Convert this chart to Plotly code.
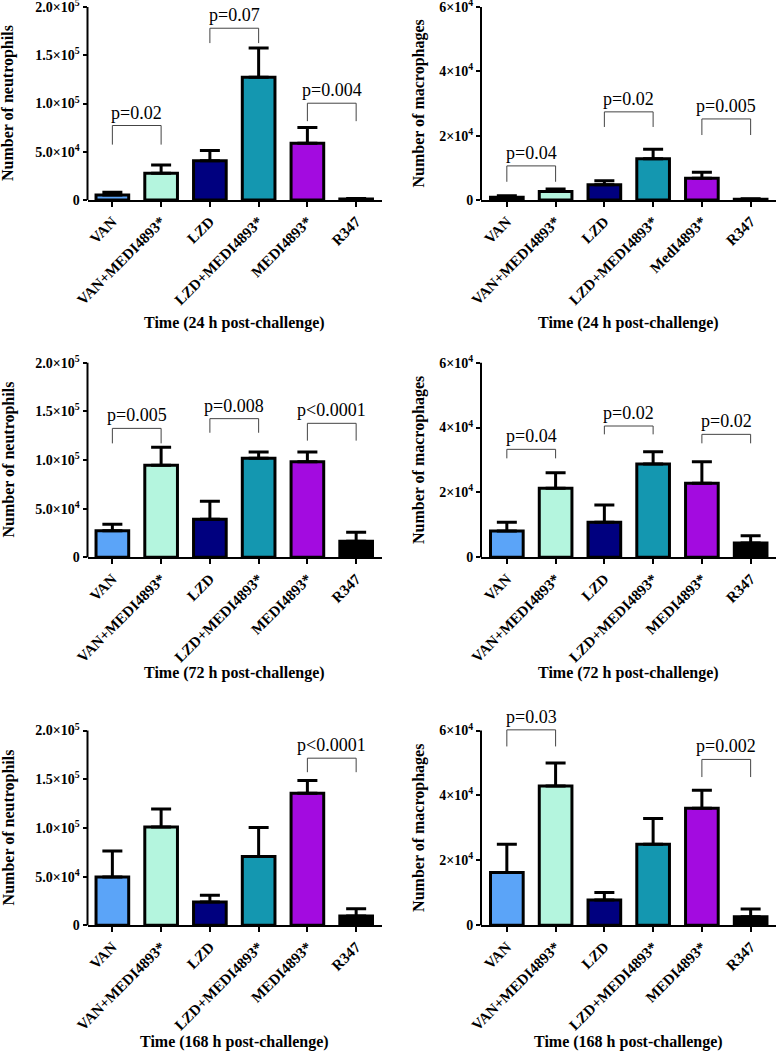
import plotly.graph_objects as go

groups = ["VAN", "VAN+MEDI4893*", "LZD", "LZD+MEDI4893*", "MEDI4893*", "R347"]
groups_mac_24h = ["VAN", "VAN+MEDI4893*", "LZD", "LZD+MEDI4893*", "MedI4893*", "R347"]
colors = ["#5ba4f8", "#b4f5de", "#00007f", "#1497b0", "#a30be0", "#000000"]

# means and upper SEM
neut_24h = [5200, 27700, 40800, 127300, 58800, 1000]
neut_24h_err = [2800, 8600, 10400, 30100, 16300, 500]
mac_24h = [820, 2680, 4730, 12860, 6790, 200]
mac_24h_err = [520, 720, 1240, 2890, 1860, 150]
neut_72h = [27400, 94500, 39000, 101700, 98300, 16400]
neut_72h_err = [6500, 18500, 18500, 6500, 9900, 9300]
mac_72h = [8120, 21270, 10790, 28770, 22810, 4420]
mac_72h_err = [2670, 4830, 5340, 3800, 6680, 2260]
neut_168h = [49660, 101030, 23970, 70550, 135620, 9590]
neut_168h_err = [26710, 18490, 6850, 29790, 13010, 7530]
mac_168h = [16280, 42900, 7780, 24980, 36040, 2660]
mac_168h_err = [8700, 7070, 2360, 7890, 5530, 2360]

neut_ticks = [0, 50000, 100000, 150000, 200000]
neut_ticktext = ["0", "5.0×10<sup>4</sup>", "1.0×10<sup>5</sup>", "1.5×10<sup>5</sup>", "2.0×10<sup>5</sup>"]
mac_ticks = [0, 20000, 40000, 60000]
mac_ticktext = ["0", "2×10<sup>4</sup>", "4×10<sup>4</sup>", "6×10<sup>4</sup>"]

# significance brackets: (left bar, right bar, label, bracket height, leg end)
br_neut_24h = [(0, 1, "p=0.02", 77200, 57400), (2, 3, "p=0.07", 178000, 162600), (4, 5, "p=0.004", 100300, 81700)]
br_mac_24h = [(0, 1, "p=0.04", 10600, 5660), (2, 3, "p=0.02", 27400, 22700), (4, 5, "p=0.005", 25200, 20200)]
br_neut_72h = [(0, 1, "p=0.005", 132500, 117100), (2, 3, "p=0.008", 142500, 128000), (4, 5, "p<0.0001", 137700, 119900)]
br_mac_72h = [(0, 1, "p=0.04", 33290, 30510), (2, 3, "p=0.02", 40480, 37910), (4, 5, "p=0.02", 37910, 35140)]
br_neut_168h = [(4, 5, "p<0.0001", 171580, 157190)]
br_mac_168h = [(0, 1, "p=0.03", 60200, 55090), (4, 5, "p=0.002", 51090, 45660)]

panels = [
    dict(row=0, col=0, labels=groups, y=neut_24h, e=neut_24h_err, ticks=neut_ticks, tt=neut_ticktext,
         ytop=200000, rtop=200000, br=br_neut_24h, ytitle="Number of neutrophils", xtitle="Time (24 h post-challenge)"),
    dict(row=0, col=1, labels=groups_mac_24h, y=mac_24h, e=mac_24h_err, ticks=mac_ticks, tt=mac_ticktext,
         ytop=60000, rtop=60000, br=br_mac_24h, ytitle="Number of macrophages", xtitle="Time (24 h post-challenge)"),
    dict(row=1, col=0, labels=groups, y=neut_72h, e=neut_72h_err, ticks=neut_ticks, tt=neut_ticktext,
         ytop=200000, rtop=200000, br=br_neut_72h, ytitle="Number of neutrophils", xtitle="Time (72 h post-challenge)"),
    dict(row=1, col=1, labels=groups, y=mac_72h, e=mac_72h_err, ticks=mac_ticks, tt=mac_ticktext,
         ytop=60000, rtop=60000, br=br_mac_72h, ytitle="Number of macrophages", xtitle="Time (72 h post-challenge)"),
    dict(row=2, col=0, labels=groups, y=neut_168h, e=neut_168h_err, ticks=neut_ticks, tt=neut_ticktext,
         ytop=200000, rtop=200000, br=br_neut_168h, ytitle="Number of neutrophils", xtitle="Time (168 h post-challenge)"),
    dict(row=2, col=1, labels=groups, y=mac_168h, e=mac_168h_err, ticks=mac_ticks, tt=mac_ticktext,
         ytop=60000, rtop=61500, br=br_mac_168h, ytitle="Number of macrophages", xtitle="Time (168 h post-challenge)"),
]

W, H = 777, 1053
col_px = [(87.5, 381.5, -0.51, 5.52), (481, 776, -0.53, 5.52)]
row_px = [(200, 7), (557.3, 362.7), (925.3, 730.5)]
xtitle_y = [323, 673, 1041.7]
ytitle_x = [8.5, 419]
font = "Liberation Serif"

fig = go.Figure()
shapes, annos = [], []
for k, p in enumerate(panels):
    n = "" if k == 0 else str(k + 1)
    x0p, x1p, xr0, xr1 = col_px[p["col"]]
    zpx, tpx = row_px[p["row"]]
    top_px = zpx - (zpx - tpx) * p["rtop"] / p["ytop"]
    xs = list(range(len(p["labels"])))

    fig.add_trace(go.Bar(
        x=xs, y=p["y"], width=0.67, xaxis="x" + n, yaxis="y" + n,
        marker=dict(color=colors, line=dict(color="black", width=3)),
        error_y=dict(type="data", symmetric=False, array=p["e"], arrayminus=[0] * len(xs),
                     color="black", thickness=3, width=10),
    ))

    fig.update_layout({
        "xaxis" + n: dict(domain=[x0p / W, x1p / W], range=[xr0, xr1], anchor="y" + n, automargin=False,
                          tickvals=xs, ticktext=p["labels"], tickangle=-45, ticklabeloverflow="allow",
                          ticks="outside", ticklen=5, tickwidth=2, tickcolor="black",
                          showline=True, linewidth=2, linecolor="black",
                          showgrid=False, zeroline=False,
                          tickfont=dict(family=font, size=15, color="black", weight="bold")),
        "yaxis" + n: dict(domain=[1 - zpx / H, 1 - top_px / H], range=[0, p["rtop"]], anchor="x" + n,
                          automargin=False, tickvals=p["ticks"], ticktext=p["tt"], ticklabeloverflow="allow",
                          ticks="outside", ticklen=4, tickwidth=2, tickcolor="black",
                          showline=False, showgrid=False, zeroline=False,
                          tickfont=dict(family=font, size=14, color="black", weight="bold")),
    })

    # y axis line ending at the top tick
    shapes.append(dict(type="line", xref="x" + n + " domain", yref="y" + n + " domain",
                       x0=0, x1=0, y0=0, y1=p["ytop"] / p["rtop"],
                       line=dict(color="black", width=2)))

    for i, j, label, yb, yl in p["br"]:
        shapes.append(dict(type="path", xref="x" + n, yref="y" + n,
                           path=f"M {i},{yl} L {i},{yb} L {j},{yb} L {j},{yl}",
                           line=dict(color="#444444", width=1)))
        annos.append(dict(x=(i + j) / 2, y=yb, xref="x" + n, yref="y" + n, text=label,
                          showarrow=False, yanchor="bottom", yshift=1,
                          font=dict(family=font, size=18, color="black")))

    annos.append(dict(x=(x0p + x1p) / 2 / W, y=1 - xtitle_y[p["row"]] / H, xref="paper", yref="paper",
                      text=p["xtitle"], showarrow=False, xanchor="center", yanchor="middle",
                      font=dict(family=font, size=16, color="black", weight="bold")))
    annos.append(dict(x=ytitle_x[p["col"]] / W, y=1 - (zpx + tpx) / 2 / H, xref="paper", yref="paper",
                      text=p["ytitle"], showarrow=False, textangle=-90, xanchor="center", yanchor="middle",
                      font=dict(family=font, size=16, color="black", weight="bold")))

fig.update_layout(width=W, height=H, margin=dict(l=0, r=0, t=0, b=0),
                  plot_bgcolor="white", paper_bgcolor="white", showlegend=False,
                  shapes=shapes, annotations=annos, font=dict(family=font))

fig.write_html("out.html", config={"displayModeBar": False},
               post_script="document.body.style.margin='0';document.body.style.overflow='hidden';")
